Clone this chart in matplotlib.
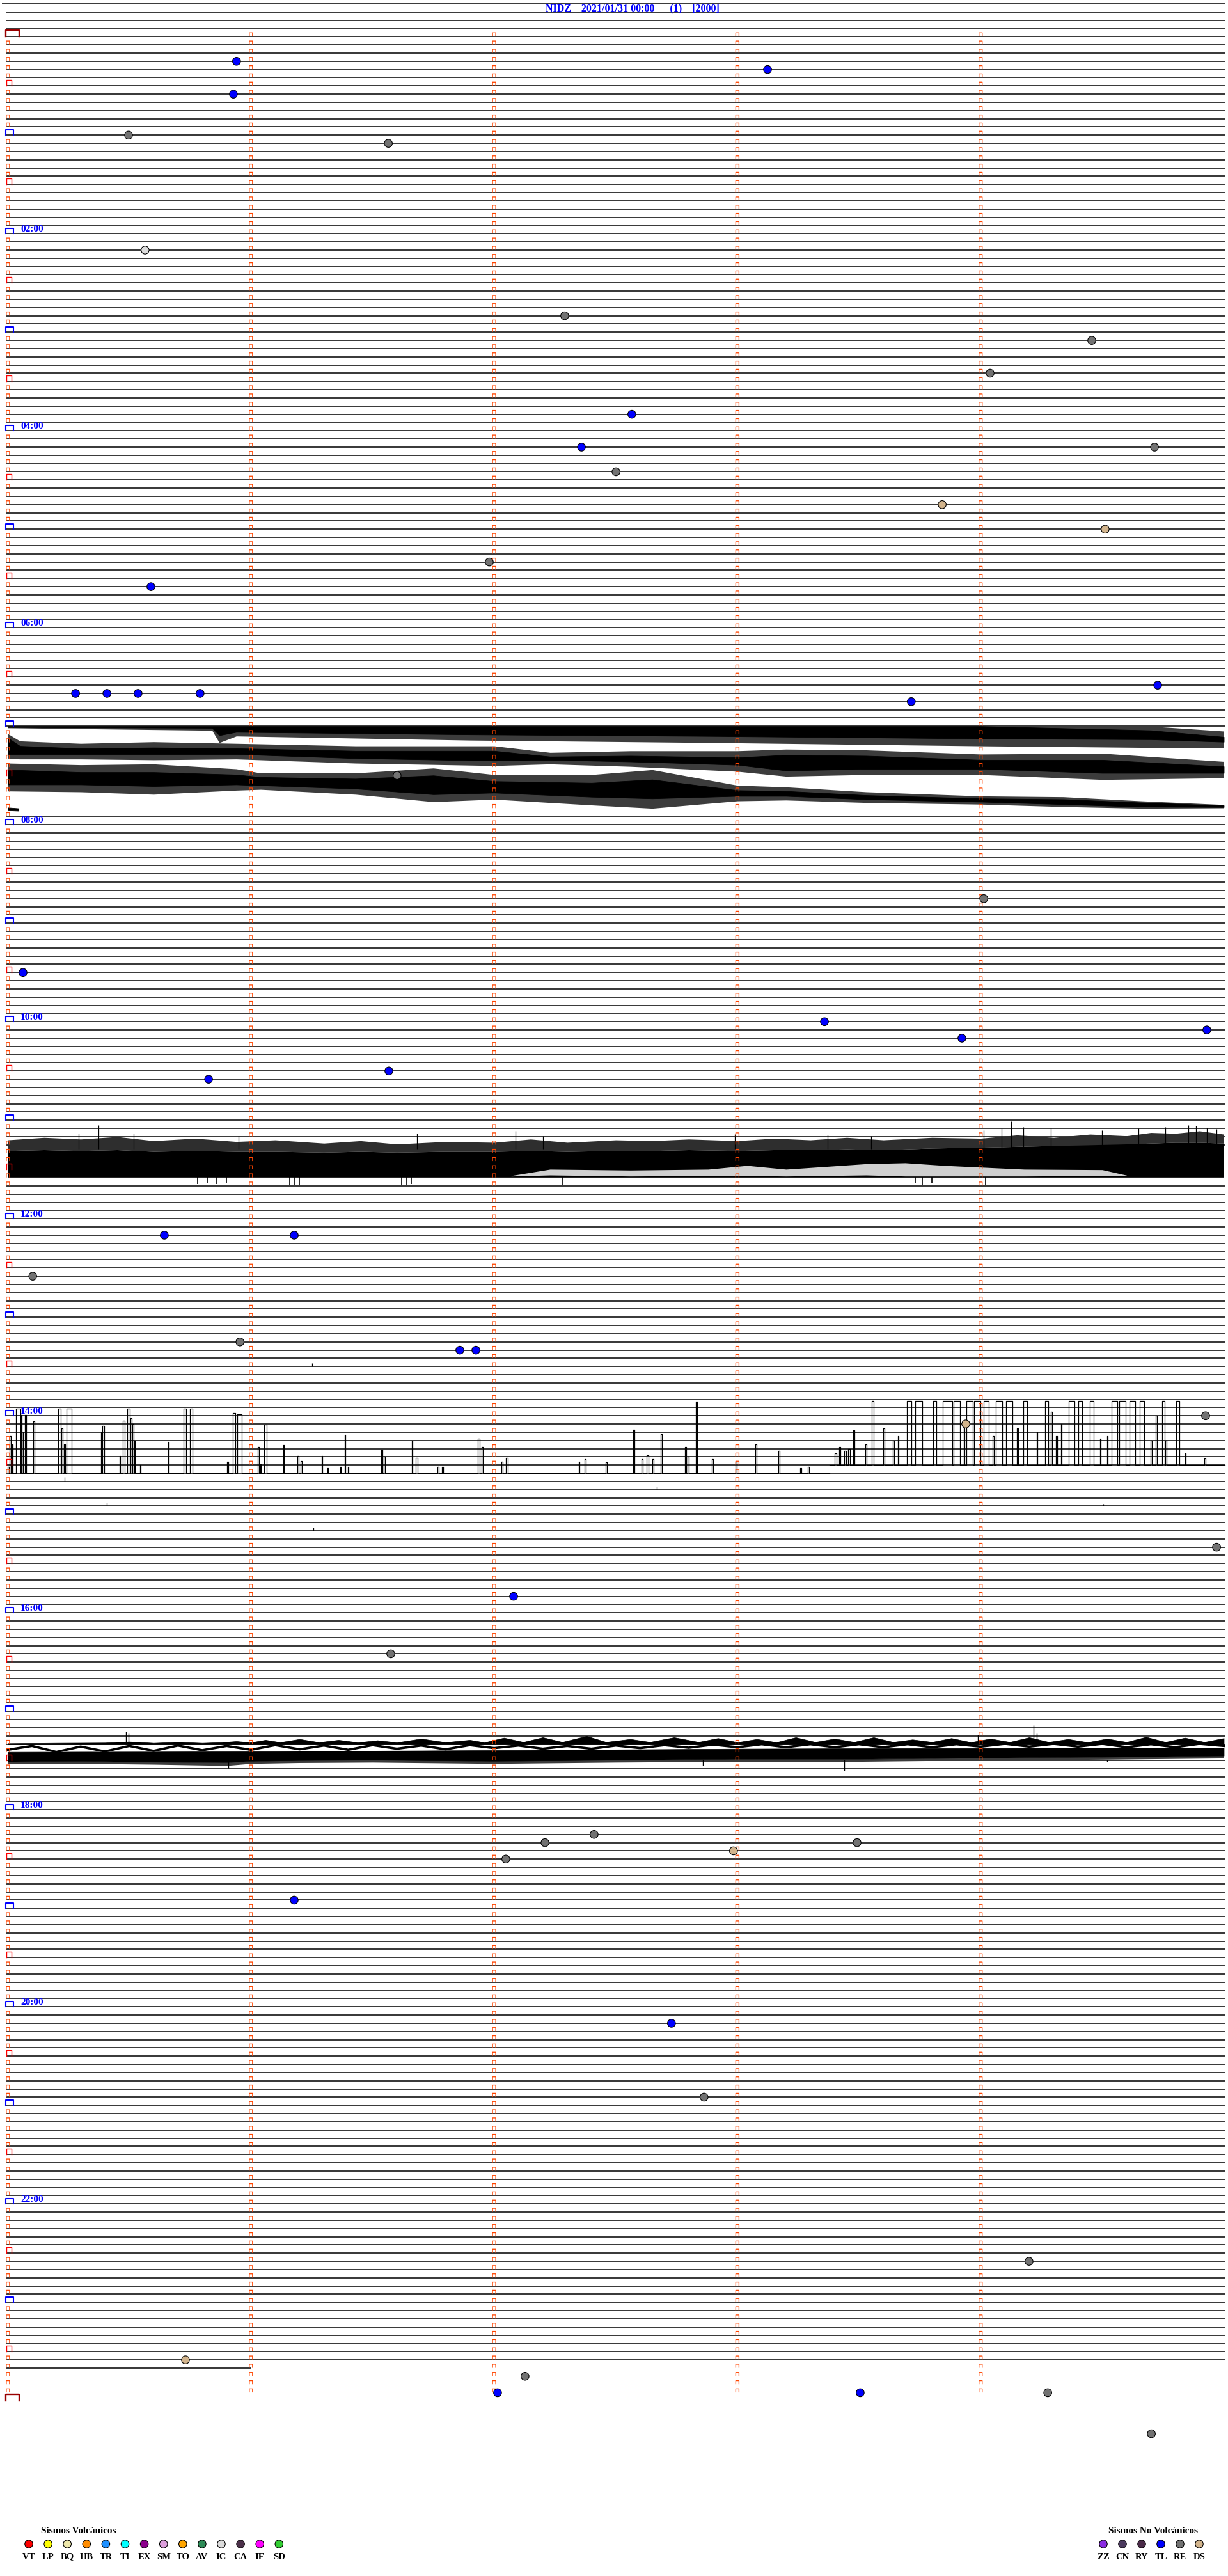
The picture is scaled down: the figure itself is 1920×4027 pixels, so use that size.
import numpy as np
import matplotlib
matplotlib.use("Agg")
import matplotlib.pyplot as plt

# ------------------------------------------------------------------ data
TITLE = "NIDZ    2021/01/31 00:00      (1)    [2000]"
ROW_FIRST, ROW_LAST_FULL = -4, 283          # 5-minute rows (row 0 = 00:00)
PARTIAL_ROW, PARTIAL_END = 284, 1.0          # last row only recorded for 1 minute
MARKER_ROWS = 288
HOUR_LABELS = ["02:00", "04:00", "06:00", "08:00", "10:00", "12:00",
               "14:00", "16:00", "18:00", "20:00", "22:00"]
HOUR_LABEL_ROWS = [24, 48, 72, 96, 120, 144, 168, 192, 216, 240, 264]
HIDDEN_ROWS = list(range(85, 95)) + [136, 137, 138, 139, 209]

VOLC_CODES = ["VT", "LP", "BQ", "HB", "TR", "TI", "EX", "SM", "TO", "AV", "IC", "CA", "IF", "SD"]
VOLC_COLORS = ["#ff0000", "#ffff00", "#eee8aa", "#ff8c00", "#1e90ff", "#00ffff", "#8b008b",
               "#dda0dd", "#ffa500", "#2e8b57", "#dcdcdc", "#4b3049", "#ff00ff", "#32cd32"]
NONVOLC_CODES = ["ZZ", "CN", "RY", "TL", "RE", "DS"]
NONVOLC_COLORS = ["#8a2be2", "#4b3a5e", "#4a2a48", "#0000ff", "#727272", "#d2b48c"]

# classified events: row (5-min line), minute inside the row, type
EVENT_ROWS = [3, 4, 7, 12, 13, 26, 34, 37, 41, 46, 50, 50, 53, 57, 60, 64, 67, 80, 80, 80, 80,
              81, 79, 90, 105, 114, 120, 122, 121, 127, 126, 146, 146, 151, 159, 160, 160, 168,
              169, 184, 190, 197, 219, 220, 222, 221, 220, 227, 242, 251, 271, 283, 285, 287,
              287, 287, 292]
EVENT_MIN = [0.941, 3.124, 0.928, 0.497, 1.565, 0.565, 2.290, 4.457, 4.039, 2.566, 2.359, 4.715,
             2.501, 3.842, 4.512, 1.980, 0.589, 0.279, 0.408, 0.536, 0.791, 3.715, 4.728, 1.601,
             4.013, 0.063, 3.358, 3.923, 4.930, 0.826, 1.567, 0.644, 1.178, 0.103, 0.955, 1.859,
             1.925, 4.925, 3.939, 4.970, 2.080, 1.575, 2.411, 2.209, 2.048, 2.984, 3.492, 1.178,
             2.729, 2.863, 4.199, 0.731, 2.127, 2.014, 3.505, 4.276, 4.702]
EVENT_TYPE = ["TL", "TL", "TL", "RE", "RE", "IC", "RE", "RE", "RE", "TL", "TL", "RE", "RE", "DS",
              "DS", "RE", "TL", "TL", "TL", "TL", "TL", "TL", "TL", "RE", "RE", "TL", "TL", "TL",
              "TL", "TL", "TL", "TL", "TL", "RE", "RE", "TL", "TL", "RE", "DS", "RE", "TL", "RE",
              "RE", "RE", "RE", "DS", "RE", "TL", "TL", "RE", "RE", "DS", "RE", "TL", "TL", "RE",
              "RE"]

# --- 07:00-08:00 noisy rows : envelopes (minute, top row, bottom row) + spike fringe
A1_M = [0, 0.84, 0.87, 0.94, 1.9, 2.9, 4.0, 4.7, 5.0]
A1_TOP = [84.0, 84.0, 84.0, 84.0, 84.0, 84.0, 84.0, 84.5, 85.3]
A1_BOT = [84.1, 84.2, 85.1, 84.7, 85.0, 85.2, 85.5, 85.6, 85.9]
A1_FRINGE = [0.1, 0.3, 0.9, 0.5, 0.7, 0.8, 0.9, 1.0, 0.7]
A2_M = [0, 0.05, 0.3, 0.6, 0.94, 1.43, 2.0, 2.23, 2.56, 3.0, 3.2, 3.53, 4.0, 4.5, 5.0]
A2_TOP = [85.4, 86.4, 86.7, 86.6, 86.7, 87.0, 87.0, 87.7, 87.6, 87.8, 87.5, 87.6, 88.1, 88.1, 88.9]
A2_BOT = [87.4, 87.4, 87.4, 87.4, 87.4, 87.9, 88.2, 88.1, 88.3, 88.7, 89.4, 89.2, 89.2, 89.7, 89.7]
A2_FRINGE = [0.5, 0.6, 0.6, 0.7, 0.6, 0.6, 0.6, 0.5, 0.6, 0.8, 0.7, 0.7, 0.7, 0.8, 0.6]
A3_M = [0, 0.3, 0.6, 0.94, 1.04, 1.43, 1.75, 2.0, 2.4, 2.65, 3.0, 3.2, 3.53, 4.0, 4.34, 4.66, 5.0]
A3_TOP = [89.3, 89.6, 89.6, 89.9, 90.2, 90.4, 90.0, 90.7, 90.9, 90.5, 91.8, 91.9, 92.4, 92.8, 92.9, 93.3, 93.65]
A3_BOT = [91.1, 91.1, 91.3, 91.1, 91.2, 91.6, 92.3, 92.1, 92.6, 92.8, 92.5, 92.5, 92.9, 93.2, 93.5, 93.8, 93.85]
A3_FRINGE = [0.8, 0.9, 1.0, 0.7, 0.5, 0.7, 0.9, 0.8, 1.0, 1.2, 0.6, 0.5, 0.4, 0.3, 0.3, 0.2, 0.1]
A4_M = [0.0, 0.045]
A4_TOP = [93.9, 94.0]
A4_BOT = [94.25, 94.3]

# --- 11:00 saturated rows
B_M = [0, 0.15, 0.3, 0.45, 0.6, 0.77, 0.94, 1.1, 1.3, 1.45, 1.6, 1.8, 2.0, 2.15, 2.3, 2.5, 2.65,
       2.8, 3.0, 3.15, 3.3, 3.45, 3.6, 3.8, 4.0, 4.15, 4.3, 4.45, 4.6, 4.7, 4.8, 4.9, 5.0]
B_GRASS_TOP = [134.4, 134.1, 134.3, 134.0, 134.5, 134.2, 134.6, 134.4, 134.8, 134.5, 134.9, 134.6,
               134.7, 134.3, 134.7, 134.4, 134.5, 134.3, 134.5, 134.2, 134.4, 134.1, 134.4, 134.1,
               134.2, 133.8, 134.1, 133.7, 133.9, 133.5, 133.6, 133.3, 133.7]
B_CORE_TOP = [135.7, 135.6, 135.7, 135.6, 135.8, 135.7, 135.8, 135.8, 135.9, 135.8, 135.9, 135.8,
              135.8, 135.7, 135.8, 135.7, 135.7, 135.6, 135.7, 135.6, 135.6, 135.5, 135.6, 135.4,
              135.3, 135.2, 135.1, 135.0, 134.9, 134.8, 134.7, 134.7, 134.8]
B_CORE_BOT = 138.94
B_GAP_M = [2.07, 2.23, 2.56, 2.88, 3.04, 3.20, 3.53, 3.69, 3.85, 4.18, 4.50, 4.60]
B_GAP_TOP = [138.75, 137.97, 138.08, 137.97, 137.51, 137.97, 137.30, 137.19, 137.51, 137.97, 138.03, 138.70]
B_GAP_BOT = [138.81, 138.68, 138.81, 138.75, 138.75, 138.81, 138.68, 138.81, 138.81, 138.81, 138.75, 138.75]
B_SPIKE_M = [0.292, 0.373, 0.518, 0.95, 1.683, 2.088, 2.20, 2.99, 3.37, 3.55, 4.013, 4.085,
             4.127, 4.175, 4.29, 4.50, 4.65, 4.76, 4.855, 4.885, 4.93, 4.97]
B_SPIKE_TIP = [133.6, 132.6, 133.6, 133.9, 133.6, 133.3, 133.9, 133.7, 133.8, 133.9, 133.2, 133.0,
               132.1, 132.8, 132.9, 133.2, 133.0, 132.8, 132.6, 132.7, 132.9, 133.1]
B_LOW_M = [0.78, 0.82, 0.86, 0.90, 1.16, 1.18, 1.20, 1.62, 1.64, 1.66, 2.28, 3.73, 3.76, 3.80, 4.02]
B_LOW_TIP = [139.8, 139.6, 139.8, 139.7, 139.84, 139.84, 139.84, 139.84, 139.84, 139.8, 139.84,
             139.7, 139.84, 139.6, 139.84]

# --- 14:00 clipped pulses (minute start, minute end, top row)
C_LEFT_BASE = 175
C_LEFT = [(0.000, 0.004, 174.2), (0.008, 0.012, 170.5), (0.018, 0.022, 171.5), (0.035, 0.052, 167.15),
          (0.055, 0.058, 167.9), (0.062, 0.064, 170.0), (0.072, 0.075, 167.9), (0.104, 0.110, 168.7),
          (0.207, 0.218, 167.15), (0.222, 0.226, 169.5), (0.232, 0.236, 171.5), (0.243, 0.263, 167.15),
          (0.383, 0.387, 170.0), (0.390, 0.396, 169.2), (0.459, 0.463, 172.9), (0.474, 0.480, 168.6),
          (0.492, 0.502, 167.15), (0.505, 0.509, 168.3), (0.512, 0.518, 169.0), (0.520, 0.523, 171.0),
          (0.543, 0.546, 174.0), (0.660, 0.663, 171.2), (0.723, 0.733, 167.15), (0.750, 0.760, 167.15),
          (0.902, 0.906, 173.6), (0.926, 0.936, 167.7), (0.944, 0.962, 167.8), (1.028, 1.034, 171.8),
          (1.038, 1.041, 173.9), (1.054, 1.065, 169.1), (1.133, 1.137, 171.6), (1.191, 1.196, 172.9),
          (1.203, 1.209, 173.5), (1.290, 1.294, 172.9), (1.315, 1.317, 174.4), (1.368, 1.370, 174.2),
          (1.386, 1.389, 170.3), (1.400, 1.402, 174.2), (1.535, 1.541, 172.1), (1.546, 1.551, 173.0),
          (1.662, 1.665, 171.0), (1.678, 1.686, 173.1), (1.767, 1.772, 174.2), (1.785, 1.790, 174.2),
          (1.933, 1.941, 170.8), (1.948, 1.954, 171.8), (2.030, 2.035, 173.6), (2.048, 2.056, 173.1),
          (2.348, 2.352, 173.6), (2.372, 2.378, 173.3), (2.459, 2.463, 173.7), (2.572, 2.576, 169.7),
          (2.606, 2.612, 173.3), (2.628, 2.634, 172.8), (2.650, 2.656, 173.3), (2.685, 2.689, 170.2),
          (2.785, 2.789, 171.8), (2.796, 2.800, 173.0), (2.830, 2.834, 166.3), (2.896, 2.900, 173.3),
          (2.993, 2.997, 173.6), (3.074, 3.078, 171.5), (3.169, 3.173, 172.3), (3.258, 3.262, 174.4),
          (3.290, 3.294, 174.2)]
C_LEFT_END = 3.38
C_RIGHT_BASE = 174
C_RIGHT = [(3.400, 3.408, 172.6), (3.418, 3.424, 171.8), (3.440, 3.446, 172.3), (3.456, 3.462, 172.0),
           (3.477, 3.481, 169.8), (3.527, 3.531, 171.5), (3.552, 3.560, 166.2), (3.600, 3.604, 169.5),
           (3.640, 3.644, 171.0), (3.660, 3.664, 170.5), (3.696, 3.716, 166.2), (3.732, 3.761, 166.2),
           (3.806, 3.819, 166.2), (3.845, 3.884, 166.2), (3.890, 3.916, 166.2), (3.930, 3.934, 169.0),
           (3.942, 3.968, 166.2), (3.974, 4.000, 166.2), (4.013, 4.033, 166.2), (4.050, 4.054, 170.5),
           (4.062, 4.088, 166.2), (4.104, 4.130, 166.2), (4.150, 4.154, 169.5), (4.175, 4.191, 166.2),
           (4.230, 4.234, 170.0), (4.266, 4.279, 166.2), (4.290, 4.294, 167.5), (4.310, 4.314, 170.5),
           (4.330, 4.334, 169.0), (4.363, 4.385, 166.2), (4.402, 4.418, 166.2), (4.450, 4.466, 166.2),
           (4.490, 4.494, 170.8), (4.520, 4.524, 170.5), (4.538, 4.563, 166.2), (4.570, 4.596, 166.2),
           (4.612, 4.635, 166.2), (4.654, 4.673, 166.2), (4.700, 4.704, 171.0), (4.720, 4.724, 168.0),
           (4.745, 4.758, 166.2), (4.760, 4.764, 171.0), (4.803, 4.816, 166.2), (4.840, 4.844, 172.6),
           (4.920, 4.924, 173.2)]
SMALL_SPIKE_M = [0.234, 1.252, 2.669, 1.257, 0.407, 4.505]
SMALL_SPIKE_BASE = [176.0, 162.0, 177.0, 182.0, 179.0, 179.0]
SMALL_SPIKE_TIP = [175.45, 161.6, 176.6, 181.6, 178.6, 178.7]

# --- 17:00 noisy rows
D1_M = [0.0, 0.2, 0.4, 0.5, 0.6, 0.7, 0.8, 0.88, 0.94, 1.0, 1.06, 1.12, 1.2, 1.28, 1.36, 1.44, 1.52,
        1.6, 1.7, 1.8, 1.9, 1.96, 2.04, 2.12, 2.2, 2.28, 2.38, 2.46, 2.56, 2.64, 2.74, 2.84, 2.92,
        3.0, 3.08, 3.16, 3.24, 3.32, 3.4, 3.48, 3.56, 3.64, 3.72, 3.8, 3.88, 3.96, 4.04, 4.12, 4.2,
        4.28, 4.36, 4.44, 4.52, 4.6, 4.68, 4.76, 4.84, 4.92, 5.0]
D1_TOP = [207.90, 207.85, 207.82, 207.69, 207.85, 207.74, 207.85, 207.77, 207.64, 207.79, 207.48,
          207.77, 207.38, 207.77, 207.48, 207.79, 207.53, 207.79, 207.33, 207.77, 207.48, 207.79,
          207.22, 207.74, 207.17, 207.74, 207.01, 207.74, 207.38, 207.74, 207.17, 207.74, 207.27,
          207.77, 207.38, 207.77, 207.17, 207.74, 207.33, 207.74, 207.17, 207.74, 207.43, 207.74,
          207.27, 207.77, 207.33, 207.74, 207.17, 207.74, 207.38, 207.77, 207.33, 207.74, 207.12,
          207.74, 207.22, 207.74, 207.27]
D1_BOT = 208.02
D2_M = [0.0, 0.1, 0.2, 0.3, 0.4, 0.5, 0.6, 0.7, 0.8, 0.9, 1.0, 1.1, 1.2, 1.3, 1.4, 1.5, 1.6, 1.7,
        1.8, 1.9, 2.0, 2.1, 2.2, 2.3, 2.4, 2.5, 2.6, 2.7, 2.8, 2.9, 3.0, 3.1, 3.2, 3.3, 3.4, 3.5,
        3.6, 3.7, 3.8, 3.9, 4.0, 4.1, 4.2, 4.3, 4.4, 4.5, 4.6, 4.7, 4.8, 4.9, 5.0]
D2_ROW = [208.68, 208.21, 208.94, 208.29, 208.88, 208.21, 208.81, 208.16, 208.73, 208.21, 208.68,
          208.11, 208.62, 208.16, 208.68, 208.11, 208.55, 208.16, 208.62, 208.11, 208.47, 208.16,
          208.55, 208.21, 208.55, 208.16, 208.47, 208.11, 208.42, 208.05, 208.36, 208.0, 208.36,
          208.0, 208.36, 208.0, 208.36, 208.0, 208.36, 208.0, 208.29, 207.95, 208.29, 207.95,
          208.29, 207.95, 208.36, 208.0, 208.36, 207.95, 208.21]
D3_M = [0.0, 0.3, 0.6, 0.9, 1.0, 1.2, 1.5, 2.0, 2.5, 3.0, 3.5, 4.0, 4.5, 5.0]
D3_TOP = [208.94, 208.92, 208.91, 208.89, 208.88, 208.85, 208.8, 208.73, 208.64, 208.55, 208.5, 208.47, 208.45, 208.42]
D3_BOT = [210.1, 210.05, 210.15, 210.2, 210.05, 209.95, 209.9, 210.05, 209.9, 209.8, 209.8, 209.65, 209.55, 209.4]
D3_FRINGE = [0.3, 0.3, 0.3, 0.4, 0.3, 0.3, 0.3, 0.3, 0.3, 0.3, 0.3, 0.3, 0.3, 0.3]
D_UP_M = [0.486, 0.496, 3.99, 4.217, 4.23]
D_UP_TIP = [206.47, 206.6, 206.9, 205.69, 206.6]
D_DOWN_M = [0.907, 2.858, 3.44, 4.52]
D_DOWN_TIP = [210.88, 210.6, 211.2, 210.1]

# ------------------------------------------------------------------ figure
W, H = 1920, 4027
fig = plt.figure(figsize=(W / 100, H / 100), dpi=100)
ax = fig.add_axes([0, 0, 1, 1])
ax.set_xlim(-0.031555, 5.01709)
ax.set_ylim(309.33, -4.465)
ax.axis("off")
SERIF = ["Liberation Serif", "DejaVu Serif"]
FRINGE = "#3c3c3c"


def fx(px):
    return px / W


def fy(py):
    return 1 - py / H


# horizontal trace lines
rows = [r for r in range(ROW_FIRST + 1, ROW_LAST_FULL + 1) if r not in HIDDEN_ROWS]
LW = 1.1
ax.hlines(rows, -0.005, 5.003, color="black", lw=LW, zorder=2)
ax.hlines([ROW_FIRST], -0.024, 5.003, color="black", lw=LW, zorder=2)
ax.hlines([PARTIAL_ROW], -0.005, PARTIAL_END, color="black", lw=LW, zorder=2)

# noisy sections
for m, t, b, f in [(A1_M, A1_TOP, A1_BOT, A1_FRINGE), (A2_M, A2_TOP, A2_BOT, A2_FRINGE),
                   (A3_M, A3_TOP, A3_BOT, A3_FRINGE)]:
    t, b, f = np.array(t), np.array(b), np.array(f)
    ax.fill_between(m, np.maximum(t - f, 84.0), b + f, color=FRINGE, lw=0, zorder=3)
    ax.fill_between(m, t, b, color="black", lw=0.6, zorder=3)
ax.fill_between(A4_M, A4_TOP, A4_BOT, color="black", lw=0.6, zorder=3)

ax.fill_between(B_M, B_GRASS_TOP, B_CORE_TOP, color="#2e2e2e", lw=0, zorder=3)
ax.fill_between(B_M, B_CORE_TOP, B_CORE_BOT, color="black", lw=0, zorder=3)
ax.fill_between(B_GAP_M, B_GAP_TOP, B_GAP_BOT, color="#d0d0d0", lw=0, zorder=3)
ax.vlines(B_SPIKE_M, B_SPIKE_TIP, [135.5] * len(B_SPIKE_M), color="black", lw=0.9, zorder=3)
ax.vlines(B_LOW_M, [B_CORE_BOT] * len(B_LOW_M), B_LOW_TIP, color="black", lw=1.2, zorder=3)


def pulse_trace(start, end, base, pulses):
    xs, ys = [start], [base]
    for a, b, t in sorted(pulses):
        xs += [a, a, b, b]
        ys += [base, t, t, base]
    xs.append(end)
    ys.append(base)
    ax.plot(xs, ys, color="black", lw=0.9, zorder=3)


pulse_trace(0.0, C_LEFT_END, C_LEFT_BASE, C_LEFT)
pulse_trace(C_LEFT_END, 5.003, C_RIGHT_BASE, C_RIGHT)
ax.vlines(SMALL_SPIKE_M, SMALL_SPIKE_TIP, SMALL_SPIKE_BASE, color="black", lw=0.9, zorder=3)

ax.fill_between(D1_M, D1_TOP, D1_BOT, color="black", lw=0.5, zorder=3)
ax.plot(D2_M, D2_ROW, color="black", lw=2.6, zorder=3)
ax.fill_between(D3_M, D3_BOT, np.array(D3_BOT) + np.array(D3_FRINGE), color=FRINGE, lw=0, zorder=3)
ax.fill_between(D3_M, D3_TOP, D3_BOT, color="black", lw=0.5, zorder=3)
ax.vlines(D_UP_M, D_UP_TIP, [208.0] * len(D_UP_M), color="black", lw=1.0, zorder=3)
ax.vlines(D_DOWN_M, [209.9] * len(D_DOWN_M), D_DOWN_TIP, color="black", lw=1.0, zorder=3)


# minute markers and hour brackets
def brackets(centers, rws, x0, x1, top_off, bot_off):
    xs, ys = [], []
    for c in centers:
        for r in rws:
            xs += [c + x0, c + x0, c + x1, c + x1, np.nan]
            ys += [r - bot_off, r - top_off, r - top_off, r - bot_off, np.nan]
    return xs, ys


all_rows = list(range(MARKER_ROWS))
hour_rows = [r for r in all_rows if r % 12 == 0 and r != 0]
half_rows = [r for r in all_rows if r % 12 == 6]
plain_rows = [r for r in all_rows if r % 6 != 0]

xs, ys = brackets([1, 2, 3, 4], all_rows, -0.0066, 0.0066, 0.47, 0.08)
ax.plot(xs, ys, color="#ff4500", lw=0.95, zorder=4)
xs, ys = brackets([0.001], plain_rows, -0.0066, 0.0066, 0.47, 0.08)
ax.plot(xs, ys, color="#ff4500", lw=0.95, zorder=4)
xs, ys = brackets([0.0], half_rows, -0.004, 0.017, 0.70, 0.0)
ax.plot(xs, ys, color="#ff0000", lw=1.0, zorder=4)
xs, ys = brackets([0.0], hour_rows, -0.007, 0.023, 0.62, 0.0)
ax.plot(xs, ys, color="#0000ff", lw=1.5, zorder=4)
xs, ys = brackets([0.0], [0, MARKER_ROWS], -0.008, 0.047, 0.80, 0.0)
ax.plot(xs, ys, color="#990000", lw=1.7, zorder=4)

# hour labels
for lab, r in zip(HOUR_LABELS, HOUR_LABEL_ROWS):
    ax.text(0.0526, r - 0.06, lab, ha="left", va="bottom", color="#0000ff",
            fontsize=11, fontweight="bold", family=SERIF, zorder=5)

# events
cmap = dict(zip(VOLC_CODES + NONVOLC_CODES, VOLC_COLORS + NONVOLC_COLORS))
ax.scatter(EVENT_MIN, EVENT_ROWS, s=80, c=[cmap[t] for t in EVENT_TYPE],
           edgecolors="black", linewidths=0.8, zorder=6)

# title
fig.text(fx(853), fy(13), TITLE, ha="left", va="center", color="#0000ff",
         fontsize=11.5, fontweight="bold", family=SERIF)

# legends
fig.text(fx(64), fy(3957), "Sismos Volcánicos", ha="left", va="center",
         fontsize=11, fontweight="bold", family=SERIF)
vx = [fx(45 + 30.1 * k) for k in range(len(VOLC_CODES))]
ax.scatter(vx, [fy(3977)] * len(vx), s=80, c=VOLC_COLORS, edgecolors="black",
           linewidths=0.8, transform=ax.transAxes, zorder=6, clip_on=False)
for x, code in zip(vx, VOLC_CODES):
    fig.text(x, fy(3997), code, ha="center", va="center", fontsize=10.5,
             fontweight="bold", family=SERIF)

fig.text(fx(1733), fy(3957), "Sismos No Volcánicos", ha="left", va="center",
         fontsize=11, fontweight="bold", family=SERIF)
nx = [fx(1725 + 30 * k) for k in range(len(NONVOLC_CODES))]
ax.scatter(nx, [fy(3977)] * len(nx), s=80, c=NONVOLC_COLORS, edgecolors="black",
           linewidths=0.8, transform=ax.transAxes, zorder=6, clip_on=False)
for x, code in zip(nx, NONVOLC_CODES):
    fig.text(x, fy(3997), code, ha="center", va="center", fontsize=10.5,
             fontweight="bold", family=SERIF)

fig.savefig("out.png", dpi=100, facecolor="white")
